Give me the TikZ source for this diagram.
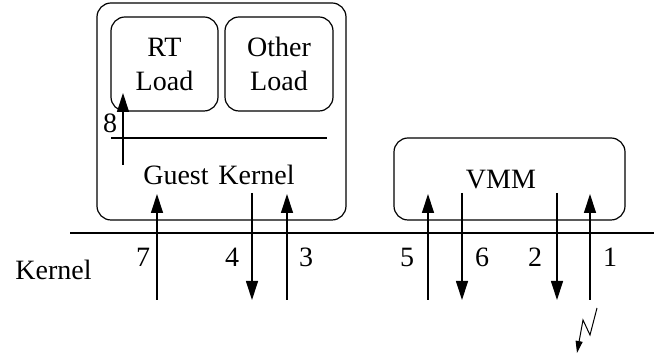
\documentclass[tikz,border=0pt]{standalone}
\usepackage{fontspec}
\setmainfont{Liberation Serif}
\usetikzlibrary{arrows.meta}

\begin{document}
\begin{tikzpicture}[x=0.5pt,y=-0.5pt,
  font=\fontsize{14}{17}\selectfont,
  line width=0.6pt,
  rbox/.style={draw,rounded corners=7pt,inner sep=0pt},
  flow/.style={-{Triangle[length=9.5pt,width=6pt]}},
  spark/.style={line width=0.5pt,-{Triangle[length=6pt,width=3.5pt]}},
  num/.style={inner sep=0pt}]

  % frame of the picture (units are pixels of the original, y downwards)
  \useasboundingbox (0,0) rectangle (654,357);

  % the guest with its two loads
  \node (guest) [rbox,minimum width=124.5pt,minimum height=108.5pt] at (221.5,111.5) {};
  \node (rt) [rbox,align=center,minimum width=53.5pt,minimum height=47pt] at (164.5,64) {RT\\Load};
  \node (other) [rbox,align=center,minimum width=54pt,minimum height=47pt] at (279,64) {Other\\Load};

  % split between user and guest kernel
  \coordinate (gl) at (111,138);
  \coordinate (gr) at (327,138);
  \draw (gl) -- (gr);
  \node (gk) [num] at (219,175) {Guest\hspace{0.35em}Kernel};

  % the monitor
  \node (vmm) [rbox,minimum width=115.5pt,minimum height=41pt] at (509.5,179) {};
  \node (vmmtext) [num] at (501,180) {VMM};

  % the host kernel line
  \coordinate (kl) at (70,233);
  \coordinate (kr) at (654,233);
  \draw (kl) -- (kr);
  \node (kernel) [num] at (53.5,270) {Kernel};

  % arrow 8 inside the guest
  \coordinate (e8) at (123,165);
  \coordinate (t8) at (123,93);
  \draw[flow] (e8) -- (t8);
  \node (n8) [num] at (110,123.5) {8};

  % upward crossings
  \foreach \x/\n in {157/7,287/3,428/5,590/1} {
    \coordinate (e\n) at (\x,300);
    \coordinate (t\n) at (\x,194);
    \draw[flow] (e\n) -- (t\n);
  }

  % downward crossings
  \foreach \x/\n in {252/4,462/6,557/2} {
    \coordinate (e\n) at (\x,193);
    \coordinate (t\n) at (\x,300);
    \draw[flow] (e\n) -- (t\n);
  }

  % numbers of the crossings
  \foreach \x/\n in {143/7,232/4,306/3,407/5,482/6,535/2,610/1}
    \node (n\n) [num] at (\x,257) {\n};

  % interrupt coming in
  \coordinate (s0) at (597,308);
  \coordinate (s1) at (590,335);
  \coordinate (s2) at (583,320);
  \coordinate (s3) at (577,353);
  \draw[spark] (s0) -- (s1) -- (s2) -- (s3);

\end{tikzpicture}
\end{document}
